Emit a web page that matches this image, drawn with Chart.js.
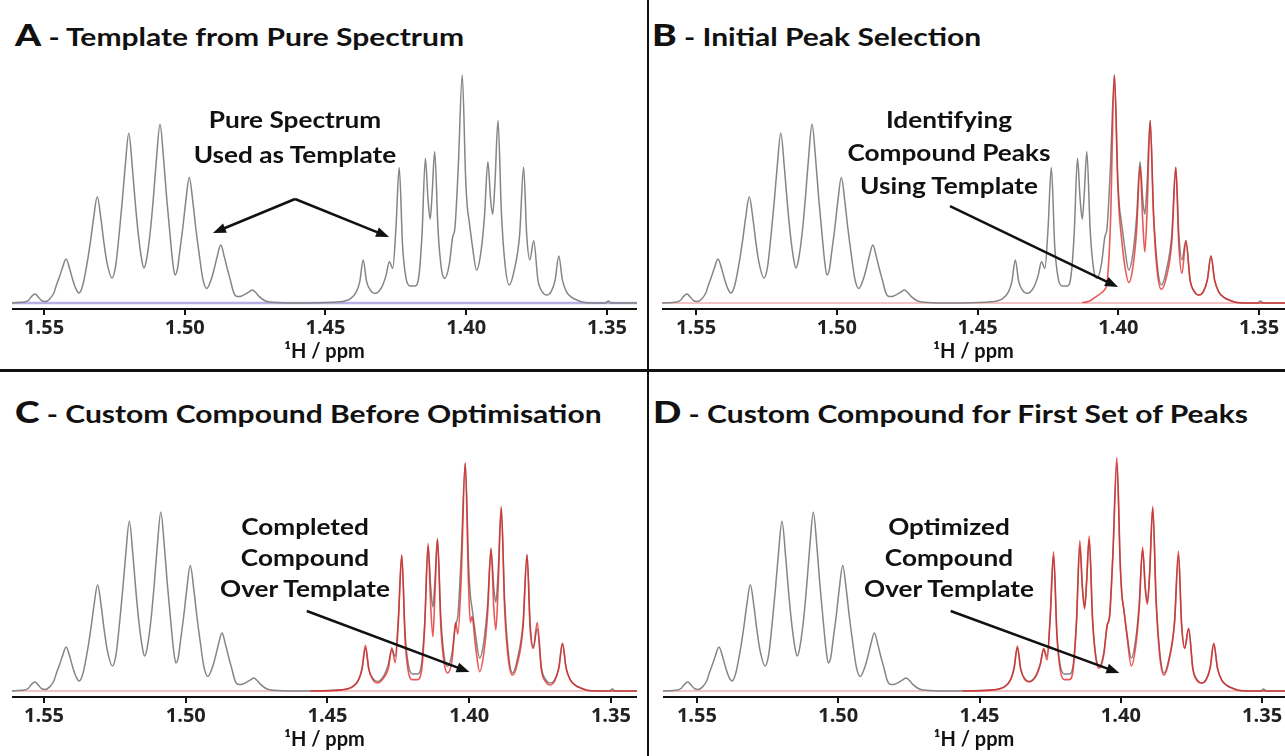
<!DOCTYPE html>
<html>
<head>
<meta charset="utf-8">
<script src="https://cdn.jsdelivr.net/npm/chart.js@4.4.1/dist/chart.umd.min.js"></script>
<style>
  html, body { margin: 0; padding: 0; background: #fff; }
  body { width: 1285px; height: 756px; position: relative; overflow: hidden; font-family: Lato, "Open Sans", sans-serif; }
  canvas { position: absolute; }
  .title { position: absolute; font-weight: bold; font-size: 25px; color: #111; white-space: nowrap; line-height: 1;
           transform: scaleX(1.2); transform-origin: left center; }
  .title b { font-size: 31px; }
  .note { position: absolute; font-weight: bold; font-size: 22px; color: #111; text-align: center; white-space: nowrap; width: 260px;
          transform: scaleX(1.19); transform-origin: center center; }
  .vline { position: absolute; left: 647px; top: 0; width: 2px; height: 756px; background: #111; }
  .hline { position: absolute; left: 0; top: 369px; width: 1285px; height: 3px; background: #111; }
</style>
</head>
<body>
<div class="title" style="left:15px; top:19px;"><b>A</b> - Template from Pure Spectrum</div>
<div class="title" style="left:652px; top:19px;"><b>B</b> - Initial Peak Selection</div>
<div class="title" style="left:15px; top:396px;"><b>C</b> - Custom Compound Before Optimisation</div>
<div class="title" style="left:653px; top:396px;"><b>D</b> - Custom Compound for First Set of Peaks</div>

<canvas id="panelA" width="625" height="317" style="left:12px; top:50px;"></canvas>
<canvas id="panelB" width="623" height="317" style="left:662px; top:50px;"></canvas>
<canvas id="panelC" width="625" height="317" style="left:12px; top:438px;"></canvas>
<canvas id="panelD" width="622" height="317" style="left:663px; top:438px;"></canvas>

<div class="note" style="left:165px; top:102px; line-height:35px;">Pure Spectrum<br>Used as Template</div>
<div class="note" style="left:819px; top:103px; line-height:33px;">Identifying<br>Compound Peaks<br>Using Template</div>
<div class="note" style="left:175px; top:511px; line-height:31px;">Completed<br>Compound<br>Over Template</div>
<div class="note" style="left:819px; top:511px; line-height:31px;">Optimized<br>Compound<br>Over Template</div>

<div class="vline"></div>
<div class="hline"></div>

<script>
// axis ticks and label
const tickValues = [1.55, 1.50, 1.45, 1.40, 1.35];
const axisLabel = '\u00B9H / ppm';

// left multiplet (ppm, intensity)
const leftPpm = [1.5640, 1.5575, 1.5555, 1.5545, 1.5532, 1.5520, 1.5508, 1.5495, 1.5480, 1.5465,
  1.5456, 1.5445, 1.5435, 1.5422, 1.5409, 1.5399, 1.5388, 1.5376, 1.5362, 1.5345,
  1.5334, 1.5324, 1.5311, 1.5298, 1.5288, 1.5277, 1.5259, 1.5246, 1.5233, 1.5222,
  1.5212, 1.5199, 1.5186, 1.5176, 1.5165, 1.5153, 1.5145, 1.5136, 1.5122, 1.5111,
  1.5101, 1.5088, 1.5075, 1.5065, 1.5054, 1.5042, 1.5035, 1.5026, 1.5018, 1.5007,
  1.4997, 1.4984, 1.4971, 1.4961, 1.4950, 1.4935, 1.4922, 1.4906, 1.4895, 1.4885,
  1.4872, 1.4859, 1.4849, 1.4838, 1.4826, 1.4814, 1.4800, 1.4783, 1.4773, 1.4760,
  1.4747, 1.4735, 1.4715, 1.4690, 1.4620];
const leftInt = [0, 0.3, 1.2, 2.8, 3.9, 2.5, 1, 0.7, 1.8, 4.5,
  7.9, 11.6, 15.4, 19.3, 15, 10.5, 6.5, 4.4, 8, 19,
  28, 37.3, 46.6, 37, 27, 18, 11, 16, 30.5, 45,
  59.5, 74.4, 59, 44, 30, 19, 15.3, 19, 32, 47,
  62.7, 78.4, 62.7, 47, 32, 17, 12.3, 15, 22.5, 33,
  44, 55, 44, 33, 22.5, 10, 6.4, 10.4, 15.2, 20.3,
  25.4, 20, 15, 10, 4.5, 2.8, 3, 4, 4.8, 5.7,
  4.5, 2.8, 1, 0.3, 0];

// right multiplet grid, shared by template (gray) and fitted compounds (red)
const rightPpm = [1.4560, 1.4450, 1.4410, 1.4390, 1.4378, 1.4366, 1.4354, 1.4340, 1.4324, 1.4300,
  1.4285, 1.4273, 1.4261, 1.4250, 1.4238, 1.4226, 1.4214, 1.4200, 1.4182, 1.4168,
  1.4157, 1.4145, 1.4136, 1.4128, 1.4121, 1.4112, 1.4100, 1.4088, 1.4076, 1.4060,
  1.4048, 1.4040, 1.4028, 1.4014, 1.4002, 1.3996, 1.3990, 1.3978, 1.3963, 1.3948,
  1.3935, 1.3923, 1.3913, 1.3906, 1.3898, 1.3887, 1.3875, 1.3862, 1.3847, 1.3830,
  1.3810, 1.3796, 1.3785, 1.3774, 1.3760, 1.3745, 1.3730, 1.3714, 1.3698, 1.3684,
  1.3671, 1.3658, 1.3644, 1.3625, 1.3600, 1.3585, 1.3550, 1.3505, 1.3495, 1.3485,
  1.3390];
const grayRightInt = [0, 0.5, 2, 5, 9.5, 18.9, 9.5, 5.5, 4.2, 7,
  12, 18.1, 15.2, 32, 59.4, 25, 11, 7.5, 7.5, 12,
  30, 63.5, 46, 36.8, 48, 66.4, 32, 15, 10.8, 17,
  29, 33, 60, 100, 55, 42, 36.4, 25, 14.5, 22,
  38, 62, 45, 38.9, 52, 80, 40, 17, 7.9, 14,
  30, 59.5, 30, 18.9, 27.3, 10, 5, 3.5, 5, 10,
  20.6, 10, 5, 2.5, 1, 0.3, 0, 0, 0.9, 0,
  0];
const redBInt = [null, null, null, null, null, null, null, null, null, null,
  null, null, null, null, null, null, null, null, null, null,
  null, null, null, 0.2, 0.3, 0.5, 1, 2, 3, 4.5,
  6, 9, 35, 100, 52, 38, 30, 17, 9, 16,
  32, 60, 35, 22.4, 40, 80, 38, 14, 6, 11,
  27, 59.5, 25, 13, 27.3, 10, 5, 3.5, 5, 10,
  20.6, 10, 5, 2.5, 1, 0.3, 0, 0, 0, 0,
  0];
const redCInt = [0, 0.5, 2, 5, 10, 20, 9.5, 5, 3.5, 6,
  10, 19, 12.4, 30, 59.7, 22, 8, 5, 5, 9,
  28, 64.8, 38, 23.8, 42, 67, 28, 12, 7.9, 14,
  30, 25, 50, 100, 45, 30, 32.6, 20, 8.5, 17,
  34, 62.7, 36, 26.8, 45, 81, 36, 14, 7, 12,
  28, 60, 27, 18.7, 30, 9, 4, 2.6, 4.5, 10,
  21, 10, 5, 2.5, 1, 0.3, 0, 0, 0, 0,
  0];
const redDInt = [0, 0.5, 2, 5, 10, 19.7, 9.5, 5, 4, 6.5,
  11.5, 18.7, 13.6, 32, 61, 24, 9, 5, 5, 10,
  30, 66, 45, 36, 48, 68, 31, 14, 10, 16,
  29, 32, 60, 102.5, 56, 42, 36.4, 24, 11, 19,
  36, 63, 44, 38, 51, 81, 39, 15, 7, 13,
  30, 61.4, 29, 18.7, 27.5, 9.5, 4.5, 3.5, 5, 10,
  21, 10, 5, 2.5, 1, 0.3, 0, 0, 0, 0,
  0];

// axis range of each panel (A, B, C, D)
const panelMax = [1.5614, 1.5621, 1.5613, 1.5620];
const panelMin = [1.3393, 1.3408, 1.3408, 1.3419];

const toXY = (ppm, vals) => ppm.map((p, i) => ({ x: p, y: vals[i] }));
const grayData = toXY(leftPpm.concat(rightPpm), leftInt.concat(grayRightInt));

// arrows drawn in data coordinates
const arrowPlugin = {
  id: 'arrows',
  afterDatasetsDraw(chart, args, opts) {
    const { ctx, scales: { x, y } } = chart;
    (opts.list || []).forEach(([from, to]) => {
      const x1 = x.getPixelForValue(from[0]), y1 = y.getPixelForValue(from[1]);
      const x2 = x.getPixelForValue(to[0]), y2 = y.getPixelForValue(to[1]);
      const a = Math.atan2(y2 - y1, x2 - x1), head = 13, half = 5;
      ctx.save();
      ctx.strokeStyle = '#111';
      ctx.fillStyle = '#111';
      ctx.lineWidth = 2.5;
      ctx.beginPath();
      ctx.moveTo(x1, y1);
      ctx.lineTo(x2 - head * 0.8 * Math.cos(a), y2 - head * 0.8 * Math.sin(a));
      ctx.stroke();
      ctx.beginPath();
      ctx.moveTo(x2, y2);
      ctx.lineTo(x2 - head * Math.cos(a) + half * Math.sin(a), y2 - head * Math.sin(a) - half * Math.cos(a));
      ctx.lineTo(x2 - head * Math.cos(a) - half * Math.sin(a), y2 - head * Math.sin(a) + half * Math.cos(a));
      ctx.closePath();
      ctx.fill();
      ctx.restore();
    });
  }
};

function lineSet(data, color, width) {
  return {
    data: data,
    borderColor: color,
    borderWidth: width,
    pointRadius: 0,
    fill: false,
    tension: 0.4,
    cubicInterpolationMode: 'monotone'
  };
}

function makePanel(id, idx, overlay, baseColor, arrows) {
  const sets = [];
  if (overlay) sets.push(lineSet(toXY(rightPpm, overlay), 'rgba(228, 32, 32, 0.75)', 1.6));
  sets.push(lineSet(grayData, '#858585', 1.5));
  sets.push(lineSet([{ x: panelMax[idx], y: 0 }, { x: panelMin[idx], y: 0 }], baseColor, idx === 0 ? 2.5 : 1.5));

  new Chart(document.getElementById(id), {
    type: 'line',
    data: { datasets: sets },
    plugins: [arrowPlugin],
    options: {
      responsive: false,
      animation: false,
      layout: { padding: 0 },
      plugins: {
        legend: { display: false },
        tooltip: { enabled: false },
        arrows: { list: arrows }
      },
      scales: {
        x: {
          type: 'linear',
          reverse: true,
          min: panelMin[idx],
          max: panelMax[idx],
          afterBuildTicks: s => { s.ticks = tickValues.map(v => ({ value: v })); },
          afterFit: s => { s.height = 58; },
          border: { display: true, color: '#111', width: 2 },
          grid: { drawOnChartArea: false, drawTicks: true, tickLength: 6, color: '#111', lineWidth: 2 },
          ticks: {
            color: '#222',
            padding: 1,
            maxRotation: 0,
            font: { family: 'Open Sans', size: 20, weight: 'bold' },
            callback: v => v.toFixed(2)
          },
          title: {
            display: true,
            text: axisLabel,
            color: '#111',
            padding: { top: 0, bottom: 3 },
            font: { family: 'Lato', size: 20, weight: 'bold' }
          }
        },
        y: { display: false, min: -2.63, max: 110.96 }
      }
    }
  });
}

makePanel('panelA', 0, null, 'rgb(185, 175, 230)',
  [[[1.4608, 45.6], [1.4900, 30.7]], [[1.4608, 45.6], [1.4274, 28.9]]]);
makePanel('panelB', 1, redBInt, 'rgb(240, 175, 175)',
  [[[1.4598, 42.5], [1.4001, 7.0]]]);
makePanel('panelC', 2, redCInt, 'rgb(240, 175, 175)',
  [[[1.4573, 35.1], [1.3999, 8.3]]]);
makePanel('panelD', 3, redDInt, 'rgb(240, 175, 175)',
  [[[1.4602, 35.1], [1.4005, 7.9]]]);
</script>
</body>
</html>
